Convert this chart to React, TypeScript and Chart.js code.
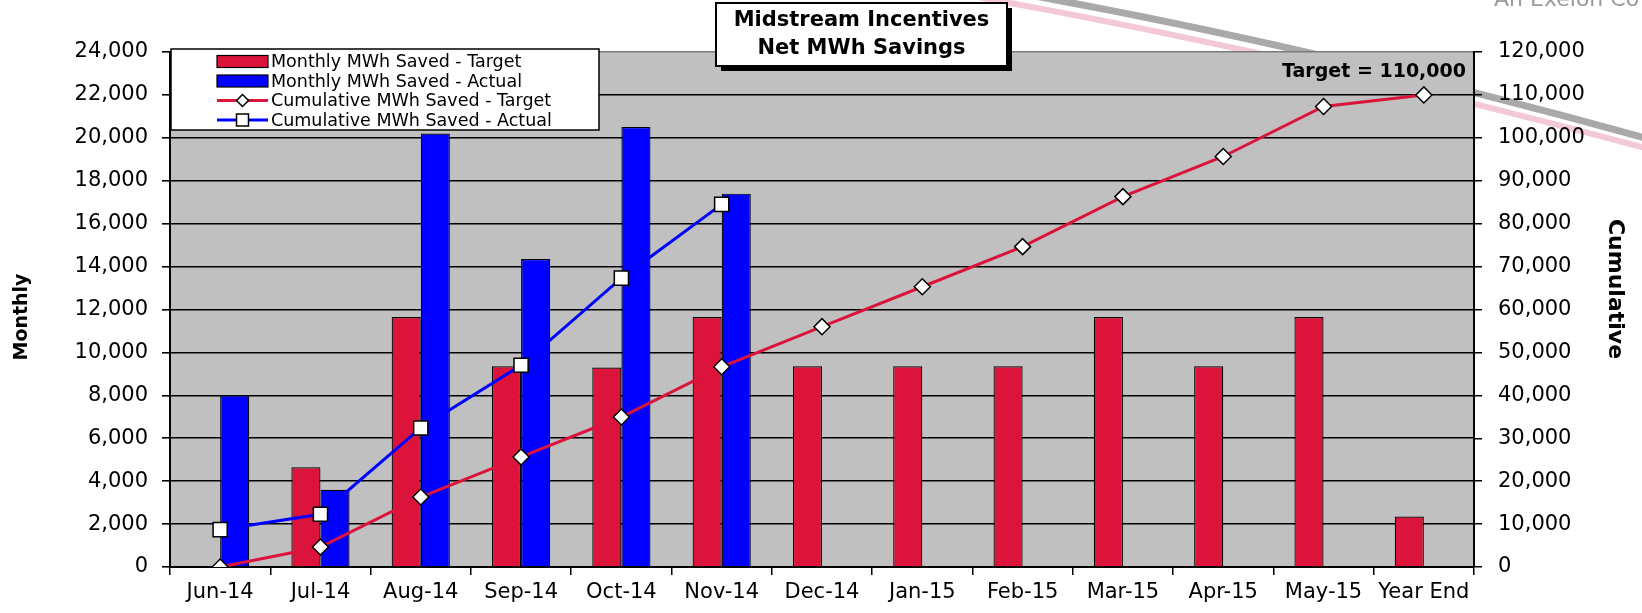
import React, { useEffect, useRef } from 'react';
import { Chart, registerables } from 'chart.js';

Chart.register(...registerables);

const categories = ['Jun-14', 'Jul-14', 'Aug-14', 'Sep-14', 'Oct-14', 'Nov-14', 'Dec-14', 'Jan-15', 'Feb-15', 'Mar-15', 'Apr-15', 'May-15', 'Year End'];
const monthlyTarget = [null, 4650, 11650, 9350, 9300, 11650, 9350, 9350, 9350, 11650, 9350, 11650, 2350];
const monthlyActual = [8000, 3600, 20200, 14350, 20500, 17400, null, null, null, null, null, null, null];
const cumulativeTarget = [0, 4660, 16300, 25650, 34950, 46650, 56000, 65300, 74650, 86300, 95650, 107300, 110000];
const cumulativeActual = [8700, 12300, 32400, 47000, 67300, 84500, null, null, null, null, null, null, null];
const seriesNames = ['Monthly MWh Saved - Target', 'Monthly MWh Saved - Actual', 'Cumulative MWh Saved - Target', 'Cumulative MWh Saved - Actual'];
const monthlyMax = 24000;
const monthlyStep = 2000;
const cumulativeMax = 120000;
const cumulativeStep = 10000;
const titleLines = ['Midstream Incentives', 'Net MWh Savings'];
const targetNote = 'Target = 110,000';
const leftAxisTitle = 'Monthly';
const rightAxisTitle = 'Cumulative';
const brandText = 'An Exelon Co';

const RED = '#DC143C';
const BLUE = '#0000FF';
const FONT = 'DejaVu Sans';

function diamond(ctx: CanvasRenderingContext2D, x: number, y: number, r: number) {
  ctx.beginPath();
  ctx.moveTo(x, y - r);
  ctx.lineTo(x + r, y);
  ctx.lineTo(x, y + r);
  ctx.lineTo(x - r, y);
  ctx.closePath();
  ctx.fillStyle = '#fff';
  ctx.fill();
  ctx.strokeStyle = '#000';
  ctx.lineWidth = 1.5;
  ctx.stroke();
}

function square(ctx: CanvasRenderingContext2D, x: number, y: number, h: number) {
  ctx.beginPath();
  ctx.rect(x - h, y - h, 2 * h, 2 * h);
  ctx.fillStyle = '#fff';
  ctx.fill();
  ctx.strokeStyle = '#000';
  ctx.lineWidth = 1.5;
  ctx.stroke();
}

const decorPlugin = {
  id: 'decor',
  beforeDraw(chart: any) {
    const { ctx, chartArea: ca } = chart;
    ctx.save();
    // swoosh
    ctx.lineCap = 'butt';
    ctx.strokeStyle = 'rgba(225, 120, 150, 0.4)';
    ctx.lineWidth = 6;
    ctx.beginPath();
    ctx.moveTo(950, -8);
    ctx.quadraticCurveTo(1290, 52, 1660, 152);
    ctx.stroke();
    ctx.strokeStyle = '#A9A9A9';
    ctx.lineWidth = 7;
    ctx.beginPath();
    ctx.moveTo(990, -12);
    ctx.quadraticCurveTo(1300, 42, 1660, 142);
    ctx.stroke();
    ctx.fillStyle = '#9a9a9a';
    ctx.font = `22px ${FONT}`;
    ctx.textAlign = 'left';
    ctx.textBaseline = 'alphabetic';
    ctx.fillText(brandText, 1494, 6);
    // plot background
    ctx.fillStyle = '#C0C0C0';
    ctx.fillRect(ca.left, ca.top, ca.right - ca.left, ca.bottom - ca.top);
    ctx.restore();
  },
  afterDraw(chart: any) {
    const { ctx, chartArea: ca } = chart;
    ctx.save();
    // Axis titles
    ctx.fillStyle = '#000';
    ctx.textAlign = 'center';
    ctx.textBaseline = 'middle';
    ctx.save();
    ctx.translate(22, 317);
    ctx.rotate(-Math.PI / 2);
    ctx.font = `bold 19px ${FONT}`;
    ctx.fillText(leftAxisTitle, 0, 0);
    ctx.restore();
    ctx.save();
    ctx.translate(1615, 289);
    ctx.rotate(Math.PI / 2);
    ctx.font = `bold 22px ${FONT}`;
    ctx.fillText(rightAxisTitle, 0, 0);
    ctx.restore();

    // Target note
    ctx.fillStyle = '#000';
    ctx.font = `bold 19px ${FONT}`;
    ctx.textAlign = 'right';
    ctx.textBaseline = 'middle';
    ctx.fillText(targetNote, ca.right - 8, 72);

    // Legend
    const lx = ca.left + 1;
    const ly = ca.top - 3;
    const lw = 428;
    const lh = 81;
    ctx.fillStyle = '#fff';
    ctx.fillRect(lx, ly, lw, lh);
    ctx.strokeStyle = '#000';
    ctx.lineWidth = 1.5;
    ctx.strokeRect(lx, ly, lw, lh);
    const ds = chart.data.datasets;
    for (let i = 0; i < 4; i++) {
      const cy = ly + 12.5 + i * 19.5;
      const sx0 = lx + 46;
      const sx1 = lx + 97;
      if (i < 2) {
        ctx.fillStyle = ds[i].backgroundColor;
        ctx.fillRect(sx0, cy - 6, sx1 - sx0, 12);
        ctx.strokeStyle = '#000';
        ctx.lineWidth = 1.2;
        ctx.strokeRect(sx0, cy - 6, sx1 - sx0, 12);
      } else {
        ctx.strokeStyle = ds[i].borderColor;
        ctx.lineWidth = 3;
        ctx.beginPath();
        ctx.moveTo(sx0, cy);
        ctx.lineTo(sx1, cy);
        ctx.stroke();
        if (i === 2) diamond(ctx, (sx0 + sx1) / 2, cy, 6);
        else square(ctx, (sx0 + sx1) / 2, cy, 6);
      }
      ctx.fillStyle = '#000';
      ctx.font = `17.5px ${FONT}`;
      ctx.textAlign = 'left';
      ctx.textBaseline = 'middle';
      ctx.fillText(ds[i].label, sx1 + 3, cy + 1);
    }

    // Title box
    const tx = 716, ty = 3, tw = 291, th = 63;
    ctx.fillStyle = '#000';
    ctx.fillRect(tx + 5, ty + 5, tw, th);
    ctx.fillStyle = '#fff';
    ctx.fillRect(tx, ty, tw, th);
    ctx.strokeStyle = '#000';
    ctx.lineWidth = 2;
    ctx.strokeRect(tx, ty, tw, th);
    ctx.fillStyle = '#000';
    ctx.font = `bold 21px ${FONT}`;
    ctx.textAlign = 'center';
    ctx.textBaseline = 'middle';
    ctx.fillText(titleLines[0], tx + tw / 2, ty + 18);
    ctx.fillText(titleLines[1], tx + tw / 2, ty + 46);
    ctx.restore();
  },
};

export default function App() {
  const ref = useRef<HTMLCanvasElement | null>(null);
  useEffect(() => {
    document.body.style.margin = '0';
    const canvas = ref.current;
    if (!canvas) return;
    const tickFont = { family: FONT, size: 21 };
    const chart = new Chart(canvas, {
      type: 'bar',
      data: {
        labels: categories,
        datasets: [
          {
            type: 'bar',
            label: seriesNames[0],
            data: monthlyTarget as any,
            backgroundColor: RED,
            borderColor: '#000',
            borderWidth: 1.2,
            yAxisID: 'y',
            order: 2,
          },
          {
            type: 'bar',
            label: seriesNames[1],
            data: monthlyActual as any,
            backgroundColor: BLUE,
            borderColor: '#000',
            borderWidth: 1.2,
            yAxisID: 'y',
            order: 2,
          },
          {
            type: 'line',
            label: seriesNames[2],
            data: cumulativeTarget as any,
            borderColor: RED,
            borderWidth: 3,
            pointStyle: 'rectRot',
            pointRadius: 8,
            pointBackgroundColor: '#fff',
            pointBorderColor: '#000',
            pointBorderWidth: 1.5,
            tension: 0,
            yAxisID: 'y1',
            order: 1,
          } as any,
          {
            type: 'line',
            label: seriesNames[3],
            data: cumulativeActual as any,
            borderColor: BLUE,
            borderWidth: 3,
            pointStyle: 'rect',
            pointRadius: 10,
            pointBackgroundColor: '#fff',
            pointBorderColor: '#000',
            pointBorderWidth: 1.5,
            tension: 0,
            yAxisID: 'y1',
            order: 0,
          } as any,
        ],
      },
      options: {
        responsive: false,
        animation: false,
        devicePixelRatio: 1,
        categoryPercentage: 0.58,
        barPercentage: 1.0,
        layout: { padding: { top: 52, left: 0, right: 0, bottom: 0 } },
        plugins: {
          legend: { display: false },
          tooltip: { enabled: false },
          title: { display: false },
        },
        scales: {
          x: {
            offset: true,
            grid: {
              offset: true,
              drawOnChartArea: false,
              drawTicks: true,
              tickLength: 8,
              color: '#000',
              lineWidth: 1.5,
            },
            border: { display: true, color: '#000', width: 2 },
            ticks: { color: '#000', font: tickFont, padding: 5, maxRotation: 0, autoSkip: false },
            afterFit: (s: any) => { s.height = 46; },
          },
          y: {
            position: 'left',
            min: 0,
            max: monthlyMax,
            ticks: {
              stepSize: monthlyStep,
              color: '#000',
              font: tickFont,
              padding: 14,
              callback: (v: any) => Number(v).toLocaleString('en-US'),
            },
            grid: {
              color: (c: any) => (c.tick && c.tick.value === monthlyMax ? '#7a7a7a' : '#000'),
              tickColor: '#000',
              lineWidth: 1.6,
              tickLength: 8,
            },
            border: { display: true, color: '#000', width: 2 },
            afterFit: (s: any) => { s.width = 170; },
          },
          y1: {
            position: 'right',
            min: 0,
            max: cumulativeMax,
            ticks: {
              stepSize: cumulativeStep,
              color: '#000',
              font: tickFont,
              padding: 16,
              callback: (v: any) => Number(v).toLocaleString('en-US'),
            },
            grid: {
              drawOnChartArea: false,
              color: '#000',
              lineWidth: 1.5,
              tickLength: 8,
            },
            border: { display: true, color: '#000', width: 2 },
            afterFit: (s: any) => { s.width = 168; },
          },
        },
      } as any,
      plugins: [decorPlugin],
    });
    return () => chart.destroy();
  }, []);
  return (
    <div style={{ width: 1642, height: 613, position: 'relative' }}>
      <canvas ref={ref} width={1642} height={613} style={{ display: 'block' }} />
    </div>
  );
}
